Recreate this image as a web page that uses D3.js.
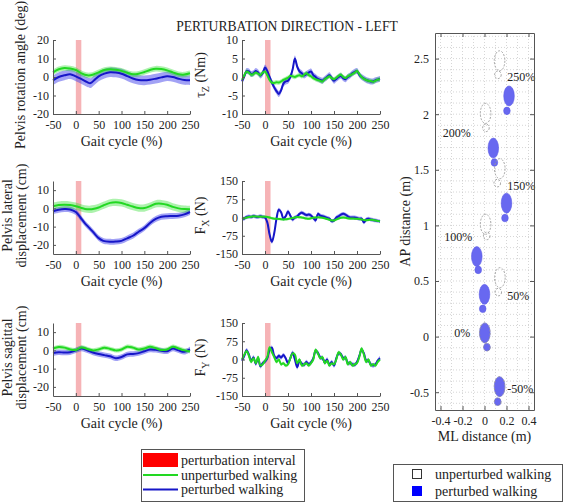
<!DOCTYPE html>
<html><head><meta charset="utf-8">
<script src="https://cdn.jsdelivr.net/npm/d3@7"></script>
<style>
body{margin:0;background:#fff;}
svg{display:block;font-family:"Liberation Serif","Times New Roman",serif;}
</style></head><body><svg id="c" width="565" height="504"></svg>
<script>
// ---------------- DATA ----------------
const gaitTicks = [-50, 0, 50, 100, 150, 200, 250];
const perturbInterval = [0, 12];

// Pelvis rotation angle (deg)
const rotX = [-50,-37.5,-25,-12.5,0,12.5,25,32,40,50,62.5,75,87.5,100,112.5,125,137.5,150,162.5,175,187.5,200,212.5,225,237.5,250];
const rotGreen = [2.5,4.2,4.9,4.6,3.8,2.0,0.9,0.9,1.5,2.5,3.8,4.2,3.9,3.3,2.3,1.5,1.8,2.7,3.8,4.5,4.3,3.6,2.5,1.5,1.3,2.0];
const rotBlue  = [-1.8,0.0,0.9,1.5,0.3,-1.2,-2.8,-3.3,-1.8,0.3,1.8,2.6,2.4,1.8,0.5,-0.8,-1.6,-1.8,-1.5,-0.9,-0.2,0.4,0.0,-0.9,-1.6,-1.8];

// tau_Z (Nm), samples every 5 % from -50 to 250
const tauGreen = [-0.8,0.5,1.5,1.2,0.6,0.8,1.2,0.9,0.5,1.2,1.5,0.5,-0.8,-1.5,-1.6,-1.4,-1.5,-1.2,-0.8,-0.5,-0.2,0.3,0.2,0.0,0.3,0.5,0.2,0.6,1.0,0.5,0.2,-0.3,-0.6,-0.8,-1.0,-1.2,-0.6,-0.2,0.2,-0.3,-0.6,-0.2,0.3,0.6,0.0,-0.3,0.2,0.5,0.8,1.2,1.6,0.8,0.0,-0.5,-0.8,-1.0,-1.1,-1.3,-1.0,-0.7,-0.6];
const tauBlue  = [-1.2,0.2,1.6,1.5,0.8,1.0,1.6,1.2,0.4,1.0,2.6,1.6,0.0,-1.5,-2.8,-3.8,-4.6,-3.6,-1.8,-1.2,-1.0,0.0,2.0,5.0,2.8,1.5,1.0,0.4,0.8,1.2,1.5,0.5,0.0,-0.5,-0.8,-1.0,-0.5,0.0,0.5,-0.3,-1.0,-0.5,0.0,0.3,-0.3,-0.6,0.0,0.4,1.0,1.4,1.6,0.6,0.0,-0.4,-0.8,-1.0,-1.2,-1.2,-0.9,-0.7,-0.5];

// Pelvis lateral displacement (cm)
const latX = [-50,-37.5,-25,-12.5,0,10,20,30,40,50,60,75,87.5,100,112.5,125,137.5,150,162.5,175,187.5,200,212.5,225,237.5,250];
const latGreen = [1.2,1.8,2.0,1.8,1.2,0.4,-0.3,-0.5,-0.2,0.5,1.6,3.0,3.3,3.0,2.0,1.0,0.2,0.2,1.2,2.5,2.6,2.0,0.8,0.0,-0.4,-0.5];
const latBlue  = [-1.6,-0.8,-0.4,-0.6,-2.0,-5.0,-8.2,-10.8,-13.6,-16.3,-17.8,-18.3,-18.2,-17.8,-16.4,-15.0,-12.8,-10.8,-8.0,-5.8,-4.6,-4.3,-4.2,-4.0,-3.3,-2.0];

// F_X (N), samples every 5 %
const fxGreen = [-5,-3,0,2,3,5,4,3,4,3,3,2,0,-3,-5,-5,-6,-7,-8,-7,-6,-4,-2,0,2,1,0,-2,-4,-5,-3,-1,0,1,0,-1,-3,-6,-9,-12,-12,-8,-4,-1,0,-1,-3,-4,-4,-5,-5,-6,-8,-10,-11,-10,-9,-10,-12,-14,-16];
const fxBlue  = [-6,-4,2,4,2,6,3,2,5,2,0,-20,-70,-100,-65,-5,32,22,-5,5,25,8,-8,0,5,15,20,15,10,12,8,-2,-12,15,8,5,2,-2,-5,-15,-12,0,5,12,15,12,5,0,0,0,-2,-5,-5,-20,-8,-5,-8,-10,-12,-14,-16];

// Pelvis sagittal displacement (cm)
const sagX = [-50,-37.5,-25,-12.5,0,12.5,25,37.5,50,62.5,75,87.5,100,112.5,125,137.5,150,162.5,175,187.5,200,212.5,225,237.5,250];
const sagGreen = [1.0,1.8,1.5,0.5,0.2,1.6,0.8,0.0,0.5,1.5,0.8,0.0,0.5,2.0,1.5,0.5,1.0,2.0,1.2,0.2,0.5,2.0,1.0,0.0,-0.5];
const sagBlue  = [-1.5,-1.0,-1.2,-1.0,0.0,1.0,0.0,-1.2,-2.0,-2.6,-3.2,-4.3,-3.6,-2.2,-2.0,-1.5,-0.5,0.5,0.3,-0.2,-0.5,1.0,0.0,-0.8,0.5];

// F_Y (N), samples every 5 %
const fyGreen = [0,20,35,15,-10,5,-15,10,-25,-20,-5,10,50,30,10,-10,0,-20,-15,-25,-20,5,25,20,-15,0,-25,-20,-15,-25,-15,0,40,25,5,10,-15,-5,-25,-15,-20,0,30,20,0,10,-20,-10,-25,-20,-15,10,45,20,-10,0,-25,-20,-25,-10,0];
const fyBlue  = [-5,15,38,20,-5,8,-18,5,-28,-15,-8,5,40,48,15,5,15,8,18,5,-15,5,28,0,-32,-5,-18,-22,-10,-20,-12,5,35,28,8,5,-12,0,-22,-10,-25,5,25,22,5,8,-15,-15,-20,-22,-10,15,40,25,-5,-5,-20,-25,-20,-5,5];

// Footprints (AP/ML distance, m)
const stepLabels = ["-50%","0%","50%","100%","150%","200%","250%"];
const pertForeX = [0.137,0.003,0.0,-0.07,0.2,0.08,0.223];
const pertForeY = [-0.45,0.033,0.38,0.72,1.2,1.695,2.164];
const pertHeelX = [0.12,0.022,-0.016,-0.057,0.186,0.09,0.204];
const pertHeelY = [-0.585,-0.095,0.25,0.60,1.066,1.565,2.03];
const unpForeX = [0.137,0.003,0.14,0.01,0.139,0.01,0.137];
const unpForeY = [-0.45,0.033,0.53,1.01,1.51,2.007,2.48];
const unpHeelX = [0.12,0.022,0.125,0.02,0.116,0.013,0.122];
const unpHeelY = [-0.585,-0.095,0.40,0.905,1.38,1.877,2.354];
const labelX = [0.207,-0.274,0.207,-0.365,0.207,-0.38,0.207];
const labelY = [-0.47,0.036,0.368,0.9,1.354,1.83,2.333];
const mlTicks = [-0.4,-0.2,0,0.2,0.4];
const apTicks = [-0.5,0,0.5,1,1.5,2,2.5];

// ---------------- DRAW ----------------
const svg = d3.select('#c');
svg.append('rect').attr('width',565).attr('height',504).attr('fill','#fff');
const GREEN = '#22d822', BLUE = '#1616c8';
const GREEN_BAND = 'rgba(40,220,40,0.38)', BLUE_BAND = 'rgba(70,70,235,0.5)';
const AXIS = '#555', TXT = '#222';
const step5 = d3.range(-50, 251, 5);

svg.append('text').attr('x',287).attr('y',31).attr('text-anchor','middle')
  .attr('font-size',13.6).attr('fill',TXT).text('PERTURBATION DIRECTION - LEFT');

function panel(cfg){
  const g = svg.append('g');
  const x = d3.scaleLinear().domain([-50,250]).range([cfg.x0,cfg.x1]);
  const y = d3.scaleLinear().domain(cfg.dom).range([cfg.y1,cfg.y0]);
  g.append('rect').attr('x',x(perturbInterval[0])).attr('y',cfg.y0)
    .attr('width',x(perturbInterval[1])-x(perturbInterval[0])).attr('height',cfg.y1-cfg.y0)
    .attr('fill','#f6b3b6');
  const curve = d3.curveCatmullRom.alpha(0.5);
  const mk = (vals, sd) => vals.map((v,i)=>({x:cfg.xs[i], v, sd}));
  const area = d3.area().x(d=>x(d.x)).y0(d=>y(d.v-d.sd)).y1(d=>y(d.v+d.sd)).curve(curve);
  const line = d3.line().x(d=>x(d.x)).y(d=>y(d.v)).curve(curve);
  const b = mk(cfg.blue, cfg.bsd), gr = mk(cfg.green, cfg.gsd);
  g.append('path').attr('d',area(b)).attr('fill',BLUE_BAND);
  g.append('path').attr('d',area(gr)).attr('fill',GREEN_BAND);
  g.append('path').attr('d',line(b)).attr('fill','none').attr('stroke',BLUE).attr('stroke-width',2);
  g.append('path').attr('d',line(gr)).attr('fill','none').attr('stroke',GREEN).attr('stroke-width',2);

  const ax = g.append('g').attr('transform',`translate(0,${cfg.y1})`)
    .call(d3.axisBottom(x).tickValues(gaitTicks).tickSize(-3).tickSizeOuter(0).tickPadding(6).tickFormat(d=>String(d)));
  const ay = g.append('g').attr('transform',`translate(${cfg.x0},0)`)
    .call(d3.axisLeft(y).tickValues(cfg.ticks).tickSize(-3).tickSizeOuter(0).tickPadding(4).tickFormat(d=>String(d)));
  [ax,ay].forEach(a=>{
    a.selectAll('path,line').attr('stroke',AXIS);
    a.selectAll('text').attr('fill',TXT).attr('font-size',12).attr('font-family','"Liberation Serif",serif');
  });
  g.append('text').attr('x',(cfg.x0+cfg.x1)/2).attr('y',cfg.y1+32).attr('text-anchor','middle')
    .attr('font-size',14).attr('fill',TXT).text('Gait cycle (%)');
  const cy = (cfg.y0+cfg.y1)/2 - 2;
  if (cfg.label2){
    g.append('text').attr('transform',`translate(11.5,${cy}) rotate(-90)`).attr('text-anchor','middle')
      .attr('font-size',14).attr('fill',TXT).text(cfg.label);
    g.append('text').attr('transform',`translate(25.5,${cy}) rotate(-90)`).attr('text-anchor','middle')
      .attr('font-size',14).attr('fill',TXT).text(cfg.label2);
  } else if (cfg.sym){
    const t = g.append('text').attr('transform',`translate(${cfg.x0-37},${cy}) rotate(-90)`).attr('text-anchor','middle')
      .attr('font-size',14).attr('fill',TXT);
    t.append('tspan').text(cfg.sym);
    t.append('tspan').attr('font-size',10).attr('dy',4).text(cfg.sub);
    t.append('tspan').attr('dy',-4).text(' ' + cfg.unit);
  } else {
    g.append('text').attr('transform',`translate(25,${cy}) rotate(-90)`).attr('text-anchor','middle')
      .attr('font-size',14).attr('fill',TXT).text(cfg.label);
  }
}

const L = [53,190], M = [242,380];
const R1 = [40,114], R2 = [181,254], R3 = [323,396];
panel({x0:L[0],x1:L[1],y0:R1[0],y1:R1[1],dom:[-20,20],ticks:[-20,-10,0,10,20],xs:rotX,green:rotGreen,blue:rotBlue,gsd:1.5,bsd:2.6,label:'Pelvis rotation angle (deg)'});
panel({x0:M[0],x1:M[1],y0:R1[0],y1:R1[1],dom:[-10,10],ticks:[-10,-5,0,5,10],xs:step5,green:tauGreen,blue:tauBlue,gsd:0.6,bsd:0.8,sym:'τ',sub:'Z',unit:'(Nm)'});
panel({x0:L[0],x1:L[1],y0:R2[0],y1:R2[1],dom:[-25,15],ticks:[-20,-10,0,10],xs:latX,green:latGreen,blue:latBlue,gsd:2.0,bsd:1.6,label:'Pelvis lateral',label2:'displacement (cm)'});
panel({x0:M[0],x1:M[1],y0:R2[0],y1:R2[1],dom:[-150,150],ticks:[-150,-75,0,75,150],xs:step5,green:fxGreen,blue:fxBlue,gsd:5,bsd:8,sym:'F',sub:'X',unit:'(N)'});
panel({x0:L[0],x1:L[1],y0:R3[0],y1:R3[1],dom:[-25,15],ticks:[-20,-10,0,10],xs:sagX,green:sagGreen,blue:sagBlue,gsd:1.2,bsd:1.5,label:'Pelvis sagittal',label2:'displacement (cm)'});
panel({x0:M[0],x1:M[1],y0:R3[0],y1:R3[1],dom:[-150,150],ticks:[-150,-75,0,75,150],xs:step5,green:fyGreen,blue:fyBlue,gsd:7,bsd:9,sym:'F',sub:'Y',unit:'(N)'});

// ---- footprint panel ----
(function(){
  const g = svg.append('g');
  const x = d3.scaleLinear().domain([-0.45,0.45]).range([435,534]);
  const y = d3.scaleLinear().domain([-0.66,2.73]).range([410,33]);
  const [X0,X1] = x.range(), [Y1,Y0] = y.range();
  g.append('rect').attr('x',X0).attr('y',Y0).attr('width',X1-X0).attr('height',Y1-Y0).attr('fill','#fff');
  const gx = d3.range(-4,5).map(d=>d/10), gy = d3.range(-6,28).map(d=>d/10);
  g.selectAll('.gx').data(gx).join('line').attr('x1',d=>x(d)).attr('x2',d=>x(d)).attr('y1',Y0).attr('y2',Y1)
    .attr('stroke','#c4c4c4').attr('stroke-width',0.7).attr('stroke-dasharray','1,2');
  g.selectAll('.gy').data(gy).join('line').attr('y1',d=>y(d)).attr('y2',d=>y(d)).attr('x1',X0).attr('x2',X1)
    .attr('stroke','#c4c4c4').attr('stroke-width',0.7).attr('stroke-dasharray','1,2');

  const rxF = 0.048, ryF = 0.09, rxH = 0.03, ryH = 0.034;
  const sx = v => x(v)-x(0), sy = v => y(0)-y(v);
  stepLabels.forEach((s,i)=>{
    g.append('ellipse').attr('cx',x(pertForeX[i])).attr('cy',y(pertForeY[i])).attr('rx',sx(rxF)).attr('ry',sy(ryF))
      .attr('fill','#6868f0').attr('stroke','#5a5ae8').attr('stroke-width',0.6);
    g.append('ellipse').attr('cx',x(pertHeelX[i])).attr('cy',y(pertHeelY[i])).attr('rx',sx(rxH)).attr('ry',sy(ryH))
      .attr('fill','#6868f0').attr('stroke','#5a5ae8').attr('stroke-width',0.6);
  });
  stepLabels.forEach((s,i)=>{
    g.append('ellipse').attr('cx',x(unpForeX[i])).attr('cy',y(unpForeY[i])).attr('rx',sx(rxF)).attr('ry',sy(ryF))
      .attr('fill','none').attr('stroke','#9a9a9a').attr('stroke-width',0.9).attr('stroke-dasharray','2,1.5');
    g.append('ellipse').attr('cx',x(unpHeelX[i])).attr('cy',y(unpHeelY[i])).attr('rx',sx(rxH)).attr('ry',sy(ryH))
      .attr('fill','none').attr('stroke','#9a9a9a').attr('stroke-width',0.9).attr('stroke-dasharray','2,1.5');
    g.append('text').attr('x',x(labelX[i])).attr('y',y(labelY[i])).attr('dy','0.35em')
      .attr('font-size',12).attr('fill',TXT).text(s);
  });
  const fmt = d=>String(d);
  const axes = [
    g.append('g').attr('transform',`translate(0,${Y1})`).call(d3.axisBottom(x).tickValues(mlTicks).tickSize(-4).tickSizeOuter(0).tickPadding(6).tickFormat(fmt)),
    g.append('g').attr('transform',`translate(0,${Y0})`).call(d3.axisTop(x).tickValues(mlTicks).tickSize(-4).tickSizeOuter(0).tickFormat('')),
    g.append('g').attr('transform',`translate(${X0},0)`).call(d3.axisLeft(y).tickValues(apTicks).tickSize(-4).tickSizeOuter(0).tickPadding(6).tickFormat(fmt)),
    g.append('g').attr('transform',`translate(${X1},0)`).call(d3.axisRight(y).tickValues(apTicks).tickSize(-4).tickSizeOuter(0).tickFormat(''))
  ];
  axes.forEach(a=>{
    a.selectAll('path,line').attr('stroke',AXIS);
    a.selectAll('text').attr('fill',TXT).attr('font-size',12).attr('font-family','"Liberation Serif",serif');
  });
  g.append('text').attr('x',(X0+X1)/2).attr('y',441).attr('text-anchor','middle').attr('font-size',14).attr('fill',TXT).text('ML distance (m)');
  g.append('text').attr('transform',`translate(410,${(Y0+Y1)/2}) rotate(-90)`).attr('text-anchor','middle').attr('font-size',14).attr('fill',TXT).text('AP distance (m)');
})();

// ---- legends ----
(function(){
  const g = svg.append('g');
  g.append('rect').attr('x',141.5).attr('y',449.5).attr('width',163).attr('height',52).attr('fill','#fff').attr('stroke','#555');
  g.append('rect').attr('x',143).attr('y',453).attr('width',35).attr('height',14).attr('fill','#ff0000');
  g.append('line').attr('x1',143).attr('x2',178).attr('y1',475).attr('y2',475).attr('stroke',GREEN).attr('stroke-width',2);
  g.append('line').attr('x1',143).attr('x2',178).attr('y1',489.5).attr('y2',489.5).attr('stroke',BLUE).attr('stroke-width',2);
  const items = ['perturbation interval','unperturbed walking','perturbed walking'];
  items.forEach((t,i)=>g.append('text').attr('x',181).attr('y',460+i*14.7).attr('dy','0.35em').attr('font-size',14).attr('fill',TXT).text(t));

  const h = svg.append('g');
  h.append('rect').attr('x',393.5).attr('y',464.5).attr('width',169).attr('height',37).attr('fill','#fff').attr('stroke','#555');
  h.append('rect').attr('x',412.5).attr('y',469.5).attr('width',9).attr('height',9).attr('fill','#fff').attr('stroke','#333');
  h.append('rect').attr('x',412).attr('y',486).attr('width',10).attr('height',10).attr('fill','#0000ff');
  h.append('text').attr('x',435).attr('y',474).attr('dy','0.35em').attr('font-size',14).attr('fill',TXT).text('unperturbed walking');
  h.append('text').attr('x',435).attr('y',491).attr('dy','0.35em').attr('font-size',14).attr('fill',TXT).text('perturbed walking');
})();
</script></body></html>
